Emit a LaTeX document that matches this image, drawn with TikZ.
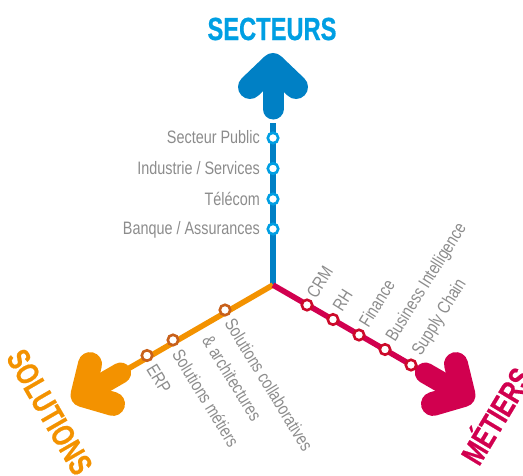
\documentclass[tikz,border=0pt]{standalone}
\usepackage{fontspec}
\setmainfont{Liberation Sans}
\newfontfamily\lblfont[FakeStretch=0.8]{Liberation Sans}
\newfontfamily\headfont[FakeStretch=0.74,FakeBold=0.6]{Liberation Sans}[BoldFont={Liberation Sans Bold}]
\definecolor{bluea}{HTML}{0080C5}
\definecolor{blueb}{HTML}{009FE3}
\definecolor{orangea}{HTML}{F39200}
\definecolor{oranger}{HTML}{C8601A}
\definecolor{maga}{HTML}{D1004F}
\definecolor{magr}{HTML}{CC0A2A}
\definecolor{lbl}{HTML}{8C8C8C}
\tikzset{
  x=1pt,y=-1pt,
  stn/.style={circle,draw=#1,fill=white,line width=2.6pt,minimum size=10.5pt,inner sep=0pt},
  lab/.style={text=lbl,font=\lblfont\fontsize{18}{20}\selectfont,inner sep=0pt},
  hd/.style={font=\headfont\bfseries\fontsize{32}{34}\selectfont,inner sep=0pt},
  trunk/.style={line width=5.6pt,draw=#1},
  bigarrow/.pic={
    \draw[line width=21pt,line cap=round,line join=round,draw=#1] (0,176) -- (0,216);
    \draw[line width=24pt,line cap=round,line join=round,draw=#1] (-23,198) -- (0,220) -- (23,198);
  }
}
\begin{document}
\begin{tikzpicture}
\useasboundingbox (0,0) rectangle (523,475);
\clip (0,0) rectangle (523,475);
\coordinate (c) at (273,285);
\coordinate (ub) at (273,123);
\coordinate (uo) at (126,370);
\coordinate (um) at (420,370);
% trunks
\draw[trunk=bluea] (c) -- (ub);
\draw[trunk=orangea] (c) -- (uo);
\draw[trunk=maga] (c) -- (um);
% arrows
\pic[rotate=180] at (c) {bigarrow=bluea};
\pic[rotate=-60] at (c) {bigarrow=orangea};
\pic[rotate=60] at (c) {bigarrow=maga};
% stations
\node[stn=blueb] (s1) at (273,138) {};
\node[stn=blueb] (s2) at (273,168.5) {};
\node[stn=blueb] (s3) at (273,199) {};
\node[stn=blueb] (s4) at (273,229) {};
\node[stn=oranger] (o1) at (225,310) {};
\node[stn=oranger] (o2) at (173,340) {};
\node[stn=oranger] (o3) at (147,355.5) {};
\node[stn=magr] (m1) at (307,305) {};
\node[stn=magr] (m2) at (333,319.5) {};
\node[stn=magr] (m3) at (359,335) {};
\node[stn=magr] (m4) at (385,349.5) {};
\node[stn=magr] (m5) at (411,365) {};
% labels
\node[lab,anchor=east] (ls1) at (260,137.5) {Secteur Public};
\node[lab,anchor=east] (ls2) at (260,168.5) {Industrie / Services};
\node[lab,anchor=east] (ls3) at (260,198.5) {Télécom};
\node[lab,anchor=east] (ls4) at (260,229.5) {Banque / Assurances};
\node[lab,anchor=west,rotate=-58.5] (lo1) at (229.5,320) {Solutions collaboratives};
\node[lab,anchor=west,rotate=-58.5] (lo1b) at (207,337) {\& architectures};
\node[lab,anchor=west,rotate=-58.5] (lo2) at (177,351) {Solutions métiers};
\node[lab,anchor=west,rotate=-58.5] (lo3) at (151,366) {ERP};
\node[lab,anchor=west,rotate=58] (lm1) at (311,296) {CRM};
\node[lab,anchor=west,rotate=58] (lm2) at (337,309) {RH};
\node[lab,anchor=west,rotate=58] (lm3) at (363,325) {Finance};
\node[lab,anchor=west,rotate=58] (lm4) at (391,340) {Business Intelligence};
\node[lab,anchor=west,rotate=58] (lm5) at (417,354) {Supply Chain};
% headings
\node[hd,text=blueb,anchor=center] (h1) at (272,29) {SECTEURS};
\node[hd,text=orangea,anchor=west,rotate=-60] (h2) at (15,352) {SOLUTIONS};
\node[hd,text=maga,anchor=west,rotate=59] (h3) at (467,460) {MÉTIERS};
\end{tikzpicture}
\end{document}
